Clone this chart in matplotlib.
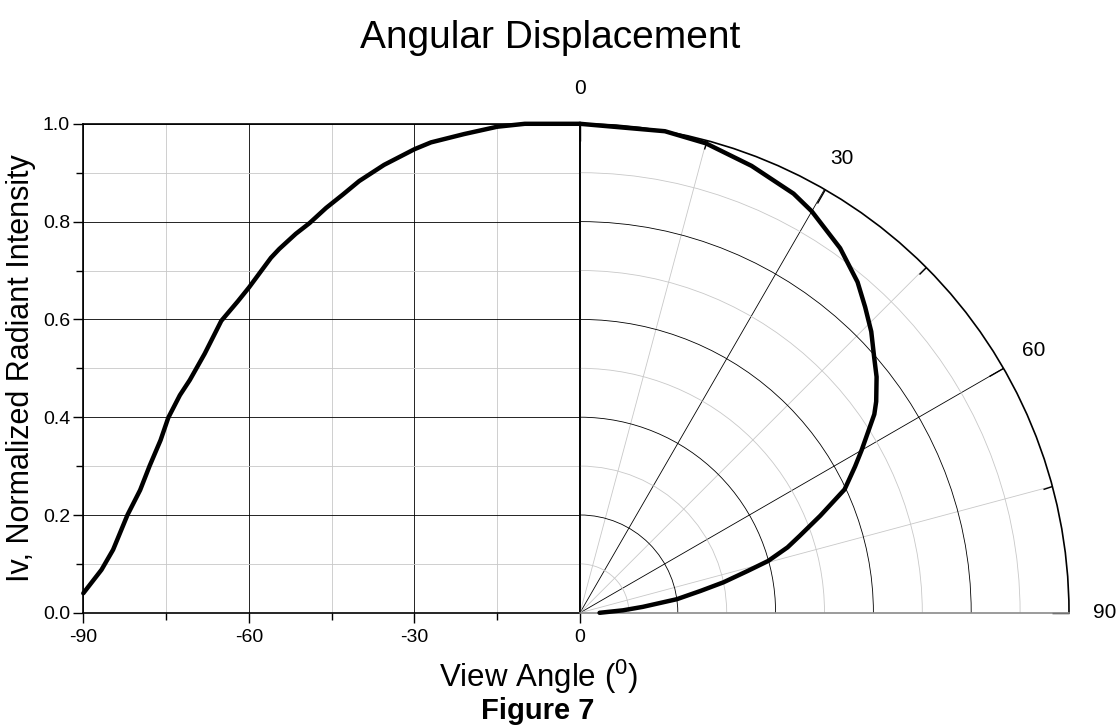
import numpy as np
import matplotlib
matplotlib.use("Agg")
import matplotlib.pyplot as plt
from matplotlib.ticker import FixedLocator

plt.rcParams['font.family'] = ['Liberation Sans', 'DejaVu Sans']
plt.rcParams['mathtext.default'] = 'regular'

# ---- data (view angle in degrees, normalized radiant intensity) ----
angles_deg = [0, 10, 15, 21, 27, 30, 35.5, 40, 43, 46, 49, 51.5, 54.5, 56, 60, 62, 65,
              68, 70.7, 72.5, 74.6, 76, 78, 79.7, 82, 84.6, 86.7, 90]
intensity = [1.0, 1.0, 0.994, 0.979, 0.962, 0.948, 0.916, 0.883, 0.855, 0.828, 0.797,
             0.775, 0.744, 0.726, 0.665, 0.637, 0.597, 0.530, 0.476, 0.445, 0.399,
             0.353, 0.300, 0.251, 0.200, 0.129, 0.088, 0.040]

left_xticks = [-90, -60, -30, 0]
left_xticklabels = ['-90', '-60', '-30', '0']
left_xminor = [-75, -45, -15]
yticks = [0.0, 0.2, 0.4, 0.6, 0.8, 1.0]
yticklabels = ['0.0', '0.2', '0.4', '0.6', '0.8', '1.0']
yminor = [0.1, 0.3, 0.5, 0.7, 0.9]
theta_major = [0, 30, 60, 90]
theta_minor = [15, 45, 75]
theta_labels = ['0', '30', '60', '90']

W, H = 1118, 727
fig = plt.figure(figsize=(W / 100, H / 100), dpi=100)

cx, cy = 580.0, 612.8      # pixel position of the origin
R = 489.0                   # pixel radius of 1.0
xl = 83.3

# ---- left cartesian half ----
ax1 = fig.add_axes([xl / W, (H - cy) / H, (cx - xl) / W, R / H])
ax1.set_xlim(-90, 0)
ax1.set_ylim(0, 1)
ax1.set_xticks(left_xticks)
ax1.set_xticklabels(left_xticklabels)
ax1.xaxis.set_minor_locator(FixedLocator(left_xminor))
ax1.set_yticks(yticks)
ax1.set_yticklabels(yticklabels)
ax1.yaxis.set_minor_locator(FixedLocator(yminor))
ax1.grid(which='major', color='black', lw=0.6)
ax1.grid(which='minor', color='#c8c8c8', lw=0.6)
ax1.tick_params(which='major', direction='out', length=7, width=1, labelsize=14, pad=2.5)
ax1.tick_params(which='minor', direction='out', length=5, width=1)
ax1.tick_params(axis='x', which='major', pad=4.5)
for s in ax1.spines.values():
    s.set_linewidth(1.2)
    s.set_color('black')
ax1.plot([-a for a in angles_deg], intensity, color='black', lw=3.2,
         solid_joinstyle='round', solid_capstyle='round', clip_on=False, zorder=5)
ax1.set_ylabel('Iv, Normalized Radiant Intensity', fontsize=22)
ax1.yaxis.set_label_coords((36 - xl) / (cx - xl), 0.5)

# ---- right polar half ----
ax2 = fig.add_axes([cx / W, (H - cy) / H, R / W, R / H], projection='polar')
ax2.set_theta_zero_location('N')
ax2.set_theta_direction(-1)
ax2.set_thetamin(0)
ax2.set_thetamax(90)
ax2.set_rlim(0, 1)
ax2.set_xticks(np.deg2rad(theta_major))
ax2.xaxis.set_minor_locator(FixedLocator(np.deg2rad(theta_minor)))
ax2.set_xticklabels([])
ax2.set_yticks([0.2, 0.4, 0.6, 0.8])
ax2.yaxis.set_minor_locator(FixedLocator(yminor))
ax2.set_yticklabels([])
ax2.grid(which='major', color='black', lw=0.6)
ax2.grid(which='minor', color='#c8c8c8', lw=0.6)
ax2.tick_params(axis='y', which='both', length=0, labelleft=False, labelright=False)
ax2.tick_params(axis='x', which='major', direction='in', length=12, width=1,
                top=True, bottom=False, labeltop=False, labelbottom=False)
ax2.tick_params(axis='x', which='minor', direction='in', length=7, width=1,
                top=True, bottom=False)
ax2.spines['polar'].set_linewidth(1.2)
ax2.spines['polar'].set_color('black')
ax2.spines['start'].set_color('black')
ax2.spines['start'].set_linewidth(1.2)
ax2.spines['end'].set_color('#8a8a8a')
ax2.spines['end'].set_linewidth(1.2)
ax2.plot(np.deg2rad(angles_deg), intensity, color='black', lw=3.2,
         solid_joinstyle='round', solid_capstyle='round', clip_on=False, zorder=5)
for t, lab in zip(theta_major, theta_labels):
    ax2.text(np.deg2rad(t), 1.072, lab, ha='center', va='center', fontsize=15,
             clip_on=False)

# ---- titles ----
fig.text(550 / W, 1 - 48 / H, 'Angular Displacement', ha='center', va='baseline',
         fontsize=28)
fig.text(539 / W, 1 - 677 / H, 'View Angle ($^{0}$)', ha='center', va='center',
         fontsize=22.5)
fig.text(538 / W, 1 - 711 / H, 'Figure 7', ha='center', va='center',
         fontsize=21, fontweight='bold')

fig.savefig('out.png', dpi=100)
